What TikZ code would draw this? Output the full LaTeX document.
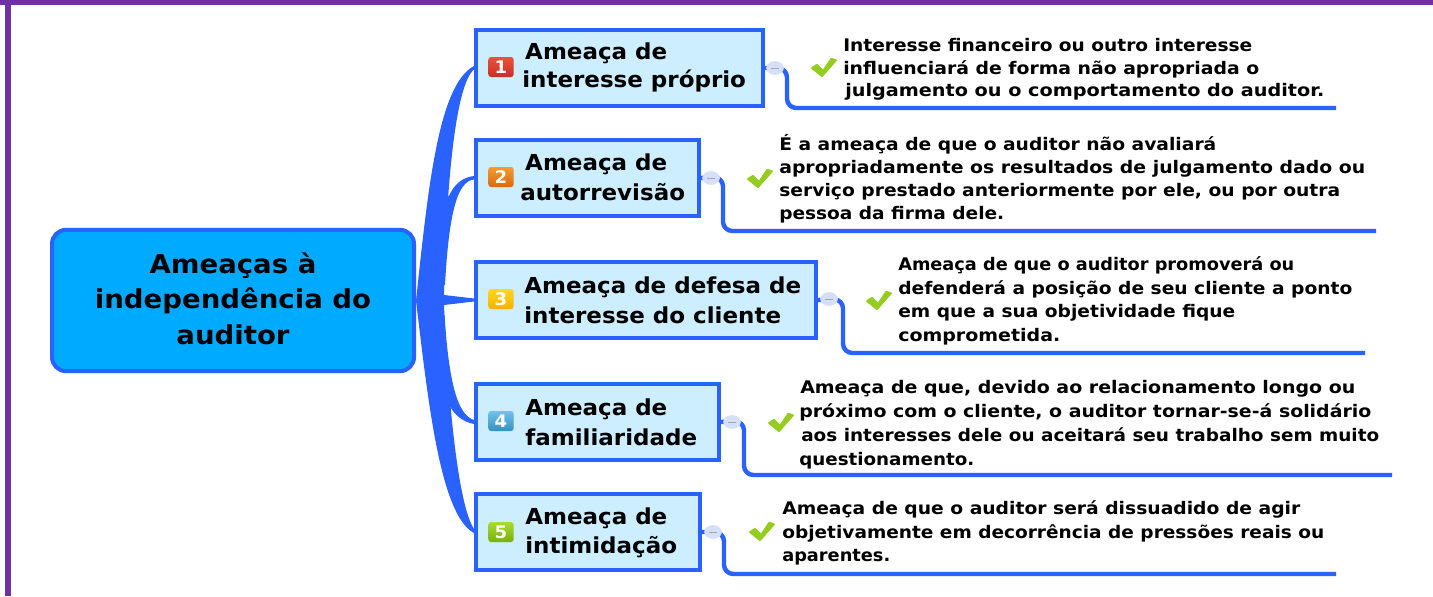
\documentclass[tikz,border=0pt]{standalone}
\usepackage{fontspec}
\usepackage{graphicx}
\setmainfont{DejaVu Sans}
\newfontfamily\rootfont{DejaVu Sans Bold}[FakeStretch=1.06]
\newfontfamily\threatfont{DejaVu Sans Bold}[FakeStretch=1.045]
\newfontfamily\descfont{DejaVu Sans Bold}
\usetikzlibrary{calc}
\definecolor{frameP}{HTML}{7030A0}
\definecolor{lineB}{HTML}{2962FF}
\definecolor{rootF}{HTML}{00AAFF}
\definecolor{boxF}{HTML}{CCEEFF}
\definecolor{foldF}{HTML}{D5DFF8}
\definecolor{checkG}{HTML}{94CC20}
\definecolor{redT}{HTML}{EE5040}\definecolor{redB}{HTML}{C83020}
\definecolor{oraT}{HTML}{F59A30}\definecolor{oraB}{HTML}{D86A10}
\definecolor{yelT}{HTML}{FFD820}\definecolor{yelB}{HTML}{F8B000}
\definecolor{bluT}{HTML}{70C4EC}\definecolor{bluB}{HTML}{3590C0}
\definecolor{greT}{HTML}{A8DC30}\definecolor{greB}{HTML}{78B010}
\tikzset{
 x=0.75pt,y=-0.75pt,
 root/.style={draw=lineB,line width=3pt,fill=rootF,rounded corners=10.5pt,minimum width=271.5pt,minimum height=106pt,inner sep=0pt,align=center,font=\fontsize{19.5}{26.6}\rootfont},
 threat/.style={draw=lineB,line width=3pt,fill=boxF,minimum height=57pt,inner sep=0pt,anchor=north west},
 threattext/.style={align=left,inner sep=0pt,anchor=west,font=\fontsize{16.5}{22}\threatfont},
 desc/.style={align=left,inner sep=0pt,anchor=west,font=\fontsize{13}{#1}\descfont},
 link/.style={draw=lineB,line width=3.3pt,rounded corners=7pt},
 badge/.style={rounded corners=2pt,minimum width=19pt,minimum height=15pt,inner sep=0pt,text=white,font=\fontsize{13}{13}\threatfont},
}
% one line of text: offset from the node's left edge and width, both in reference pixels
\newcommand{\tl}[3]{\hspace*{0.75\dimexpr #1pt\relax}\resizebox{0.75\dimexpr #2pt\relax}{\height}{#3}}
\newcommand{\chk}[2]{\filldraw[checkG,line width=0.4pt,rounded corners=0.5pt] (#1-12,#2) -- (#1-6,#2-4) -- (#1,#2+2) -- (#1+8,#2-10) -- (#1+14,#2-8) -- (#1-1,#2+9) -- cycle;}
\begin{document}
\begin{tikzpicture}
\useasboundingbox (0,0) rectangle (1433,596);
\fill[white] (0,0) rectangle (1433,596);
\fill[frameP] (0,0) rectangle (1433,5);
\fill[frameP] (5,0) rectangle (11,596);

\node[root] (r) at (233,300.5) {Ameaças à\\independência do\\auditor\rule[-3pt]{0pt}{3pt}};

\node[threat,minimum width=215pt] (a) at (474,28) {};
\node[threat,minimum width=167pt] (b) at (474,138) {};
\node[threat,minimum width=255pt] (c) at (474,260) {};
\node[threat,minimum width=182pt] (d) at (474,382) {};
\node[threat,minimum width=168pt] (e) at (474,492) {};

% tapered branches
\fill[lineB] (r.east) .. controls (428,190) and (438,85) .. ($(a.west)+(0,-2)$) -- ($(a.west)+(0,1.5)$) .. controls (455,85) and (446,190) .. (444,295) -- (444,305) .. controls (448,400) and (458,505) .. ($(e.west)+(0,-3)$) -- ($(e.west)+(0,1)$) .. controls (440,515) and (428,400) .. (r.east) -- cycle;
\fill[lineB] (449,196) .. controls (455,182) and (465,177) .. ($(b.west)+(0,-2)$) -- ($(b.west)+(0,1.5)$) .. controls (458,181) and (449,210) .. (445,285) -- (435,285) -- (438,200) -- cycle;
\fill[lineB] (435,295) -- (444,295) -- ($(c.west)+(0,-1.5)$) -- ($(c.west)+(0,1.5)$) -- (444,305) -- (435,305) -- cycle;
\fill[lineB] (444.5,315) .. controls (449,385) and (458,415) .. ($(d.west)+(0,-2)$) -- ($(d.west)+(0,2)$) .. controls (462,422) and (452,413) .. (448,402) -- (438,402) -- (436,315) -- cycle;

% text in threat boxes
\node[threattext] at (522,67.5) {\hspace{2.2pt}Ameaça de\\[-0.7pt]interesse próprio};
\node[threattext] at (520,177) {\hspace{3.7pt}Ameaça de\\[0.7pt]autorrevisão};
\node[threattext] at (524,300) {Ameaça de defesa de\\[0.7pt]interesse do cliente};
\node[threattext] at (525,422) {Ameaça de\\[0.7pt]familiaridade};
\node[threattext] at (525,532.5) {Ameaça de\\intimidação};

% badges
\node[badge,top color=redT,bottom color=redB] (b1) at (501,67) {1};
\node[badge,top color=oraT,bottom color=oraB] (b2) at (501,177) {2};
\node[badge,top color=yelT,bottom color=yelB] (b3) at (501,299) {3};
\node[badge,top color=bluT,bottom color=bluB] (b4) at (501,421) {4};
\node[badge,top color=greT,bottom color=greB] (b5) at (501,532) {5};

% description texts
\node[desc=17] (ta) at (843,69.5) {\tl{0}{409}{Interesse financeiro ou outro interesse}\\\tl{0}{416}{influenciará de forma não apropriada o}\\\tl{2}{479}{julgamento ou o comportamento do auditor.}};
\node[desc=17.3] (tb) at (779,178.5) {\tl{0}{437}{É a ameaça de que o auditor não avaliará}\\\tl{0}{586}{apropriadamente os resultados de julgamento dado ou}\\\tl{0}{561}{serviço prestado anteriormente por ele, ou por outra}\\\tl{0}{225}{pessoa da firma dele.}};
\node[desc=17.7] (tc) at (898,301) {\tl{0}{396}{Ameaça de que o auditor promoverá ou}\\\tl{0}{454}{defenderá a posição de seu cliente a ponto}\\\tl{0}{337}{em que a sua objetividade fique}\\\tl{0}{162}{comprometida.}};
\node[desc=18] (td) at (799,424.5) {\tl{1}{555}{Ameaça de que, devido ao relacionamento longo ou}\\\tl{0}{572}{próximo com o cliente, o auditor tornar-se-á solidário}\\\tl{2}{578}{aos interesses dele ou aceitará seu trabalho sem muito}\\\tl{0}{175}{questionamento.}};
\node[desc=17.6] (te) at (782,533) {\tl{0}{518}{Ameaça de que o auditor será dissuadido de agir}\\\tl{0}{542}{objetivamente em decorrência de pressões reais ou}\\\tl{0}{108}{aparentes.}};

% free ends of the underlines
\coordinate (ua) at (1336,108);
\coordinate (ub) at (1376,231);
\coordinate (uc) at (1365,353);
\coordinate (ud) at (1392,475);
\coordinate (ue) at (1336,574);

% connectors
\path[link] (a.east) -- (787,68) -- (787,108) -- (ua);
\path[link] (b.east) -- (723,177) -- (723,231) -- (ub);
\path[link] (c.east) -- (843,299) -- (843,353) -- (uc);
\path[link] (d.east) -- (744,421) -- (744,475) -- (ud);
\path[link] (e.east) -- (724,532) -- (724,574) -- (ue);

% fold markers
\foreach \n/\x/\y in {a/775/68,b/711/178,c/829/299,d/732/422,e/713/532}{
 \filldraw[fill=foldF,draw=lineB!20,line width=0.4pt] (\x,\y) ellipse (8.5 and 6.5);
 \draw[black!35,line width=0.6pt] (\x-4,\y) -- (\x+4,\y);
}

% check marks
\chk{823}{68}
\chk{759}{179}
\chk{878}{301}
\chk{780}{423}
\chk{761}{532}
\end{tikzpicture}
\end{document}
